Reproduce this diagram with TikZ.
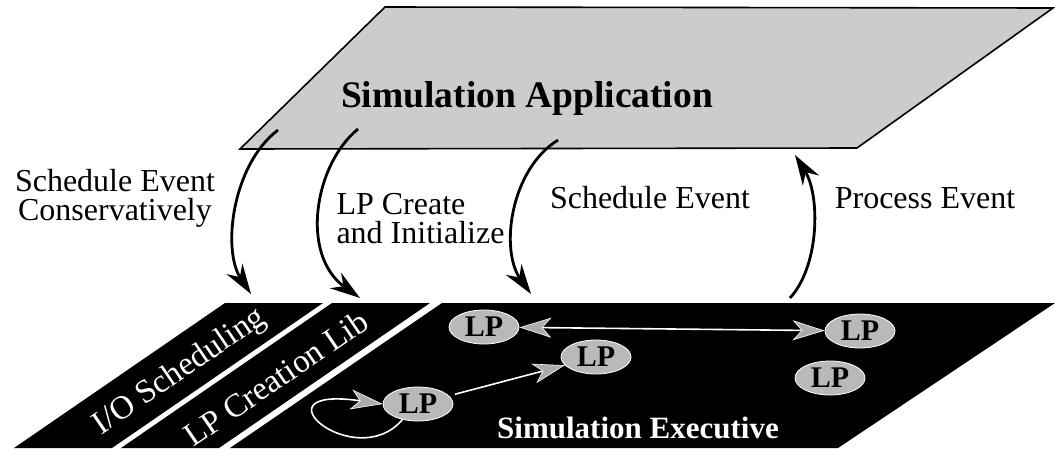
\documentclass[tikz,border=0pt]{standalone}
\usepackage{fontspec}
\setmainfont{Liberation Serif}
\usetikzlibrary{shapes.geometric, arrows.meta}
\tikzset{
  gtip/.tip={Stealth[length=32pt,width=20pt,inset=9pt,color=white,fill=gray!65,line width=0.6pt]},
  lp/.style={ellipse, draw=white, thick, fill=gray!55, minimum width=70pt,
    minimum height=34pt, inner sep=0pt, font=\fontsize{30}{30}\selectfont\bfseries},
  call/.style={-{Stealth[length=30pt,width=19pt]}, line width=2.8pt},
  msg/.style={draw=white, line width=1.6pt, -gtip},
  lbl/.style={font=\fontsize{32}{29}\selectfont, align=center},
  plane/.style={font=\fontsize{37.5}{37.5}\selectfont\bfseries},
}

\begin{document}
\begin{tikzpicture}[x=1pt, y=-1pt]
  \useasboundingbox (0,0) rectangle (1055,448);

  % planes
  \draw[line width=1.6pt, fill=gray!40] (240,149) -- (857,148) -- (1053,8) -- (385,7) -- cycle;
  \fill (14,448) -- (225,303) -- (323,303) -- (112,448) -- cycle;
  \fill (121,448) -- (332,303) -- (430,303) -- (219,448) -- cycle;
  \fill (230,448) -- (442,303) -- (1055,303) -- (838,448) -- cycle;

  \node[plane] (app) at (527,98) {Simulation Application};
  \node[plane, white, font=\fontsize{31}{31}\selectfont\bfseries] (exec) at (638,428) {Simulation Executive};
  \node[lbl, white, rotate=34.3, font=\fontsize{33}{33}\selectfont] (io) at (180,372) {I/O Scheduling};
  \node[lbl, white, rotate=34.3, font=\fontsize{33}{33}\selectfont] (lib) at (276,378) {LP Creation Lib};

  % logical processes
  \node[lp] (lp1) at (484,327) {LP};
  \node[lp] (lp2) at (596,357) {LP};
  \node[lp] (lp3) at (860,331) {LP};
  \node[lp] (lp4) at (830,378) {LP};
  \node[lp] (lp5) at (418,404) {LP};

  \draw[msg, gtip-gtip] (lp1) -- (lp3);
  \draw[msg, shorten <=6pt] (lp5) -- (lp2);
  \draw[msg] (lp5.225) .. controls (355,475) and (250,385) .. (lp5.west);

  % calls between the planes
  \coordinate (a1) at (278,130);
  \coordinate (b1) at (251,294);
  \coordinate (a2) at (358,129);
  \coordinate (b2) at (360,298);
  \coordinate (a3) at (558,140);
  \coordinate (b3) at (531,294);
  \coordinate (a4) at (795,155);
  \coordinate (b4) at (790,298);

  \draw[call] (a1) .. controls (232,165) and (222,250) .. (b1);
  \draw[call] (a2) .. controls (314,165) and (300,255) .. (b2);
  \draw[call] (a3) .. controls (510,170) and (500,250) .. (b3);
  \draw[call] (b4) .. controls (820,265) and (820,195) .. (a4);

  \node[lbl] (cons) at (115,198) {Schedule Event\\Conservatively};
  \node[lbl, align=left, anchor=west] (create) at (333,219) {LP Create\\and Initialize};
  \node[lbl] (sched) at (650,198) {Schedule Event};
  \node[lbl] (proc) at (925,198) {Process Event};
\end{tikzpicture}
\end{document}
